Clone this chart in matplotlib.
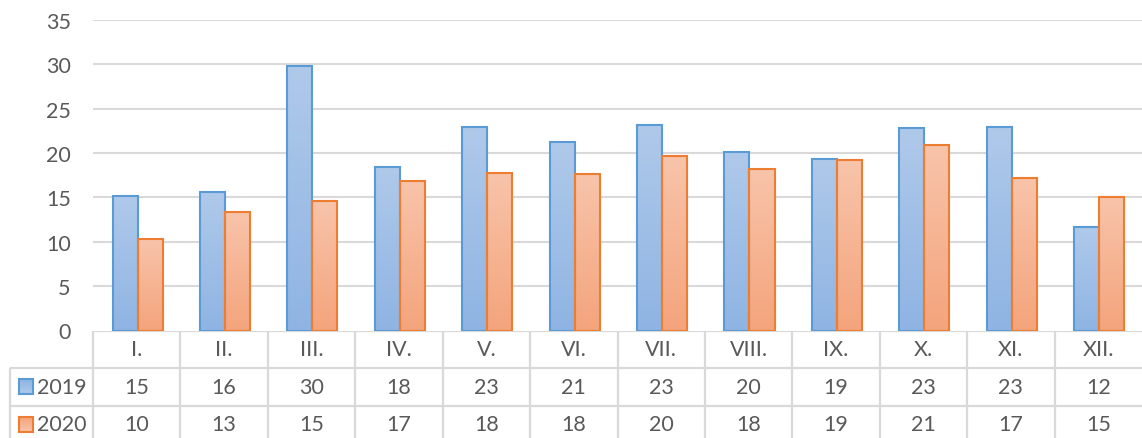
import numpy as np
import matplotlib
matplotlib.use("Agg")
import matplotlib.pyplot as plt
from matplotlib.patches import Rectangle
from matplotlib.colors import LinearSegmentedColormap

plt.rcParams['font.family'] = ['Lato', 'DejaVu Sans']

months = ['I.', 'II.', 'III.', 'IV.', 'V.', 'VI.', 'VII.', 'VIII.', 'IX.', 'X.', 'XI.', 'XII.']
series_names = ['2019', '2020']
v2019 = [15.1, 15.6, 29.8, 18.4, 22.9, 21.2, 23.1, 20.1, 19.3, 22.8, 22.9, 11.7]
v2020 = [10.3, 13.4, 14.6, 16.8, 17.7, 17.6, 19.6, 18.2, 19.2, 20.9, 17.2, 15.0]
yticks = [0, 5, 10, 15, 20, 25, 30, 35]

W, H = 1142, 439
edge_cols = ['#5b9bd5', '#ed7d31']
grad_cols = [('#8fb4e3', '#afc9ea'), ('#f4a47c', '#f8c4aa')]
txt = '#595959'
grid = '#d9d9d9'
fs = 15.5

fig = plt.figure(figsize=(W / 100, H / 100), dpi=100)
x0, x1 = 93, 1142
ytop, ybot = 20.7, 331.5
ax = fig.add_axes([x0 / W, (H - ybot) / H, (x1 - x0) / W, (ybot - ytop) / H])

n = len(months)
x = np.arange(n)
bw = 0.286

cmaps = [LinearSegmentedColormap.from_list('g%d' % i, c) for i, c in enumerate(grad_cols)]
grad = np.linspace(0, 1, 256).reshape(-1, 1)

for si, vals in enumerate([v2019, v2020]):
    offs = (si - 0.5) * bw
    bars = ax.bar(x + offs + 0.01, vals, width=bw, facecolor='none',
                  edgecolor=edge_cols[si], linewidth=1.5, zorder=3)
    for b in bars:
        bx, by = b.get_x(), b.get_y()
        bwid, bh = b.get_width(), b.get_height()
        im = ax.imshow(grad, cmap=cmaps[si], aspect='auto', origin='lower',
                       extent=[bx, bx + bwid, by, by + bh], zorder=2)
        im.set_clip_path(b)

ax.set_xlim(-0.5, n - 0.5)
ax.set_ylim(0, 35)
ax.set_yticks(yticks)
ax.tick_params(axis='y', length=0, pad=16, labelsize=fs, labelcolor=txt)
ax.set_xticks([])
for s in ax.spines.values():
    s.set_visible(False)
for t in yticks[1:]:
    ax.axhline(t, color=grid, linewidth=1.5, zorder=1)

# data table
unit = (x1 - x0) / n
xl = -0.5 - (x0 - 10) / unit
row_h = 37.5
tax = fig.add_axes([0, 0, 1, (H - ybot) / H])
tax.set_xlim(-0.5 - x0 / unit, -0.5 + (W - x0) / unit)
tax.set_ylim((H - ybot) / row_h, 0)
tax.axis('off')

lk = dict(color=grid, linewidth=1.6, solid_capstyle='butt')
tax.plot([-0.5, n - 0.5], [0, 0], **lk)
for r in [1, 2]:
    tax.plot([xl, n - 0.5], [r, r], **lk)
tax.plot([xl, xl], [1, 3], **lk)
for k in range(n):
    tax.plot([k - 0.5, k - 0.5], [0, 3], **lk)

for i, m in enumerate(months):
    tax.text(i, 0.5, m, ha='center', va='center', fontsize=fs, color=txt)
for si, vals in enumerate([v2019, v2020]):
    r = si + 1.5
    for i, v in enumerate(vals):
        tax.text(i, r, '%d' % int(np.floor(v + 0.5)), ha='center', va='center',
                 fontsize=fs, color=txt)
    sq_w = 14.4 / unit
    sx = xl + 8.5 / unit
    sq = Rectangle((sx, r - 0.2), sq_w, 0.4, facecolor='none',
                   edgecolor=edge_cols[si], linewidth=1.5, zorder=3)
    tax.add_patch(sq)
    im = tax.imshow(grad, cmap=cmaps[si], aspect='auto', origin='upper',
                    extent=[sx, sx + sq_w, r + 0.2, r - 0.2], zorder=2)
    im.set_clip_path(sq)
    tax.text(xl + 27 / unit, r, series_names[si], ha='left', va='center',
             fontsize=fs, color=txt)

fig.savefig('out.png', dpi=100)
